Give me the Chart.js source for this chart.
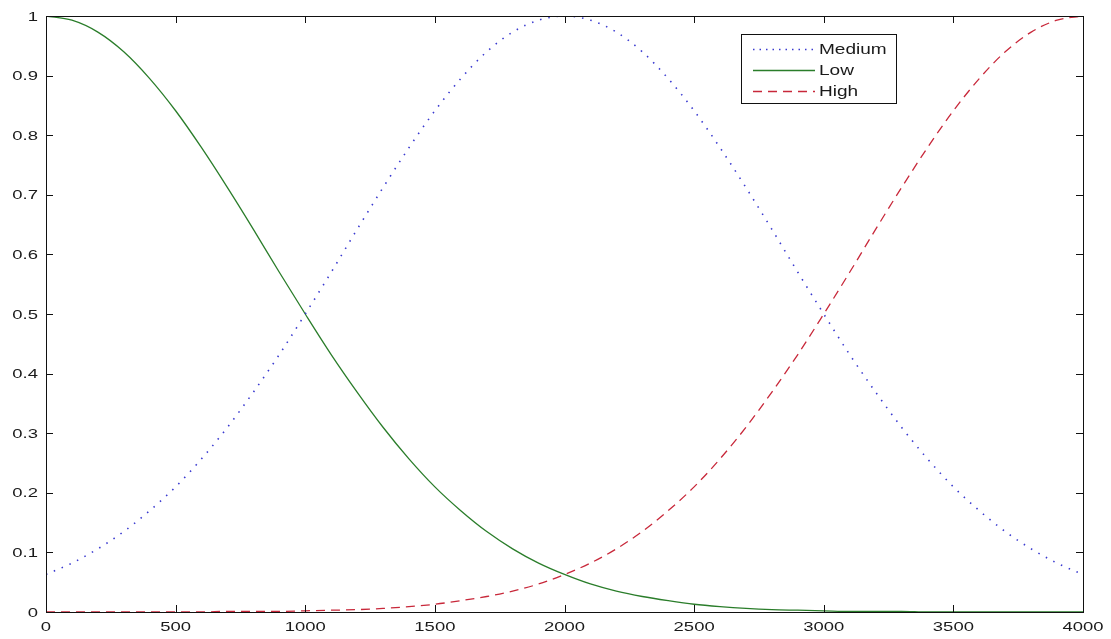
<!DOCTYPE html>
<html>
<head>
<meta charset="utf-8">
<title>Membership functions</title>
<script src="https://cdn.jsdelivr.net/npm/chart.js@4.4.1/dist/chart.umd.min.js"></script>
<style>
    html, body { margin: 0; padding: 0; background: #fff; }
    canvas { display: block; }
</style>
</head>
<body>
<canvas id="chart" width="1111" height="639"></canvas>
<script>
// Data
const xValues = [0, 100, 200, 300, 400, 500, 600, 700, 800, 900, 1000,
    1100, 1200, 1300, 1400, 1500, 1600, 1700, 1800, 1900, 2000,
    2100, 2200, 2300, 2400, 2500, 2600, 2700, 2800, 2900, 3000,
    3100, 3200, 3300, 3400, 3500, 3600, 3700, 3800, 3900, 4000];

const mediumValues = [0.063, 0.082, 0.106, 0.135, 0.170, 0.210, 0.257, 0.310, 0.369, 0.432, 0.500,
    0.570, 0.642, 0.712, 0.779, 0.841, 0.895, 0.940, 0.973, 0.993, 1.000,
    0.993, 0.973, 0.940, 0.895, 0.841, 0.779, 0.712, 0.642, 0.570, 0.500,
    0.432, 0.369, 0.310, 0.257, 0.210, 0.170, 0.135, 0.106, 0.082, 0.063];

const lowValues = [1.000, 0.993, 0.973, 0.940, 0.895, 0.841, 0.779, 0.712, 0.642, 0.570, 0.500,
    0.432, 0.369, 0.310, 0.257, 0.210, 0.170, 0.135, 0.106, 0.082, 0.063,
    0.047, 0.035, 0.026, 0.019, 0.013, 0.009, 0.006, 0.004, 0.003, 0.002,
    0.001, 0.001, 0.001, 0, 0, 0, 0, 0, 0, 0];

const highValues = [0, 0, 0, 0, 0, 0, 0, 0.001, 0.001, 0.001, 0.002,
    0.003, 0.004, 0.006, 0.009, 0.013, 0.019, 0.026, 0.035, 0.047, 0.063,
    0.082, 0.106, 0.135, 0.170, 0.210, 0.257, 0.310, 0.369, 0.432, 0.500,
    0.570, 0.642, 0.712, 0.779, 0.841, 0.895, 0.940, 0.973, 0.993, 1.000];

const xTicks = [0, 500, 1000, 1500, 2000, 2500, 3000, 3500, 4000];
const yTicks = [0, 0.1, 0.2, 0.3, 0.4, 0.5, 0.6, 0.7, 0.8, 0.9, 1];
const yTickLabels = ['0', '0.1', '0.2', '0.3', '0.4', '0.5', '0.6', '0.7', '0.8', '0.9', '1'];

const seriesNames = ['Medium', 'Low', 'High'];
const seriesColors = ['#3a3ad0', '#2a7d2a', '#c8283a'];
const seriesDash = [[1.5, 7], [], [9, 6]];
const seriesValues = [mediumValues, lowValues, highValues];

const FONT = '"Liberation Sans", Arial, sans-serif';
const TICK_LEN = 7;

// Text is a bit wide in the original, so stretch it horizontally
function stretchText(ctx, text, x, y, align, baseline, sx) {
    ctx.save();
    ctx.translate(x, y);
    ctx.scale(sx, 1);
    ctx.textAlign = align;
    ctx.textBaseline = baseline;
    ctx.fillText(text, 0, 0);
    ctx.restore();
}

// Box, inward ticks, tick labels and legend, matlab style
const matlabAxes = {
    id: 'matlabAxes',
    afterDraw(chart) {
        const ctx = chart.ctx;
        const a = chart.chartArea;
        const xs = chart.scales.x;
        const ys = chart.scales.y;

        ctx.save();
        ctx.strokeStyle = '#111';
        ctx.lineWidth = 1;
        ctx.setLineDash([]);
        ctx.strokeRect(Math.round(a.left) + 0.5, Math.round(a.top) + 0.5,
            Math.round(a.right - a.left), Math.round(a.bottom - a.top));

        ctx.beginPath();
        xTicks.forEach(v => {
            const px = Math.round(xs.getPixelForValue(v)) + 0.5;
            ctx.moveTo(px, a.bottom);
            ctx.lineTo(px, a.bottom - TICK_LEN);
            ctx.moveTo(px, a.top);
            ctx.lineTo(px, a.top + TICK_LEN);
        });
        yTicks.forEach(v => {
            const py = Math.round(ys.getPixelForValue(v)) + 0.5;
            ctx.moveTo(a.left, py);
            ctx.lineTo(a.left + TICK_LEN, py);
            ctx.moveTo(a.right, py);
            ctx.lineTo(a.right - TICK_LEN, py);
        });
        ctx.stroke();

        // Tick labels
        ctx.fillStyle = '#1a1a1a';
        ctx.font = '13px ' + FONT;
        xTicks.forEach(v => {
            stretchText(ctx, String(v), xs.getPixelForValue(v), a.bottom + 19, 'center', 'alphabetic', 1.42);
        });
        yTicks.forEach((v, i) => {
            stretchText(ctx, yTickLabels[i], a.left - 8, ys.getPixelForValue(v) + 1, 'right', 'middle', 1.42);
        });

        // Legend
        const box = { x: 741.5, y: 34.5, w: 155, h: 69 };
        ctx.fillStyle = '#fff';
        ctx.fillRect(box.x, box.y, box.w, box.h);
        ctx.strokeStyle = '#111';
        ctx.strokeRect(box.x, box.y, box.w, box.h);
        ctx.font = '14px ' + FONT;
        seriesNames.forEach((name, i) => {
            const rowY = 49 + i * 21;
            ctx.strokeStyle = seriesColors[i];
            ctx.lineWidth = 1.3;
            ctx.setLineDash(i === 0 ? [1.5, 5] : seriesDash[i]);
            ctx.beginPath();
            ctx.moveTo(753, rowY + 0.5);
            ctx.lineTo(815, rowY + 0.5);
            ctx.stroke();
            ctx.setLineDash([]);
            ctx.fillStyle = '#1a1a1a';
            stretchText(ctx, name, 819, rowY + 1, 'left', 'middle', 1.36);
        });
        ctx.restore();
    }
};

const datasets = seriesNames.map((name, i) => ({
    label: name,
    data: xValues.map((x, j) => ({ x: x, y: seriesValues[i][j] })),
    borderColor: seriesColors[i],
    borderWidth: i === 0 ? 1.6 : 1.3,
    borderDash: seriesDash[i],
    pointRadius: 0,
    fill: false,
    cubicInterpolationMode: 'monotone'
}));

const chart = new Chart(document.getElementById('chart'), {
    type: 'line',
    data: { datasets: datasets },
    options: {
        responsive: false,
        animation: false,
        devicePixelRatio: 1,
        layout: { padding: { top: 16, right: 28, left: 0, bottom: 0 } },
        plugins: {
            legend: { display: false },
            tooltip: { enabled: false }
        },
        scales: {
            x: {
                type: 'linear',
                min: 0,
                max: 4000,
                grid: { display: false },
                border: { display: false },
                ticks: { display: false },
                afterFit: s => { s.height = 27; }
            },
            y: {
                min: 0,
                max: 1,
                grid: { display: false },
                border: { display: false },
                ticks: { display: false },
                afterFit: s => { s.width = 46; }
            }
        }
    },
    plugins: [matlabAxes]
});
</script>
</body>
</html>
